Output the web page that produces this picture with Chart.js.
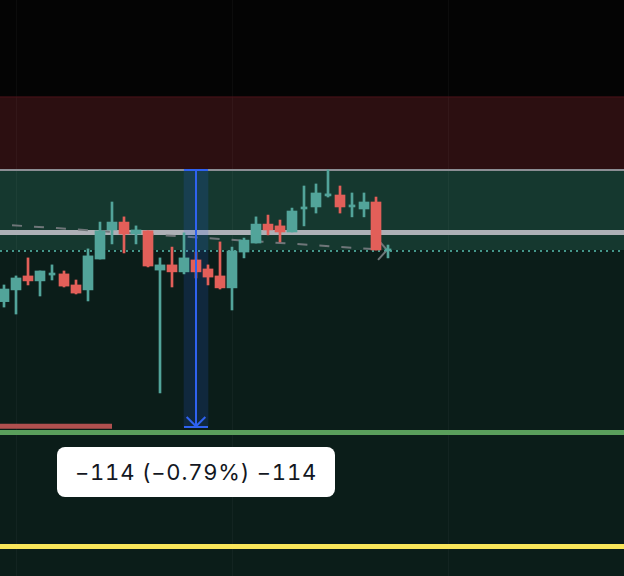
<!DOCTYPE html>
<html>
<head>
<meta charset="utf-8">
<script src="https://cdn.jsdelivr.net/npm/chart.js@4.4.1/dist/chart.umd.min.js"></script>
<style>
  html, body { margin: 0; padding: 0; background: #0b1d19; overflow: hidden; }
  #wrap { position: relative; width: 624px; height: 576px; }
  canvas { display: block; }
  #measure {
    position: absolute; box-sizing: border-box; width: 278px; height: 50px;
    background: #ffffff; border-radius: 8px; color: #131722;
    font: 22px Inter, "Noto Sans", sans-serif; font-feature-settings: "tnum";
    letter-spacing: 0.8px; display: flex; align-items: center; justify-content: center;
    padding-top: 1px; white-space: nowrap;
  }
</style>
</head>
<body>
<div id="wrap">
  <canvas id="chart" width="624" height="576"></canvas>
  <div id="measure"></div>
</div>
<script>
// candles, one per slot, oldest first
const opens  = [14371.6, 14376.8, 14383.0, 14380.8, 14383.4, 14383.9, 14379.0, 14376.8, 14390.5, 14403.4,
                14406.9, 14401.6, 14403.0, 14385.6, 14387.9, 14384.8, 14390.1, 14386.1, 14383.0, 14377.7,
                14393.6, 14397.6, 14406.0, 14405.2, 14402.5, 14412.7, 14413.6, 14418.5, 14418.9, 14413.6,
                14412.7, 14415.8, 14394.1];
const highs  = [14379.0, 14383.0, 14391.0, 14385.2, 14387.9, 14385.2, 14381.2, 14395.0, 14406.9, 14415.8,
                14409.2, 14405.2, 14403.0, 14391.0, 14395.8, 14402.1, 14393.6, 14387.9, 14398.1, 14395.8,
                14399.8, 14409.2, 14410.0, 14407.8, 14413.1, 14422.9, 14423.8, 14430.0, 14422.9, 14419.8,
                14419.8, 14418.0, 14396.7];
const lows   = [14369.2, 14366.1, 14379.0, 14374.1, 14381.2, 14378.1, 14375.0, 14371.9, 14390.5, 14397.2,
                14393.2, 14397.2, 14387.0, 14331.1, 14378.1, 14383.9, 14382.1, 14379.0, 14377.2, 14367.9,
                14391.0, 14397.6, 14401.2, 14398.1, 14402.5, 14405.2, 14410.9, 14418.0, 14410.9, 14409.2,
                14409.2, 14394.5, 14391.0];
const closes = [14377.2, 14382.1, 14380.8, 14385.2, 14384.3, 14378.5, 14375.4, 14391.9, 14403.0, 14406.9,
                14401.6, 14403.4, 14387.4, 14387.9, 14384.8, 14391.0, 14384.8, 14382.5, 14377.7, 14394.1,
                14398.9, 14406.0, 14403.4, 14402.5, 14411.8, 14413.6, 14419.8, 14419.4, 14413.6, 14414.5,
                14415.8, 14394.5, 14394.5];

// price zones and levels
const redZone = [14430, 14462.4];
const tealZone = [14394.5, 14430];
const grayLevel = 14402.3;
const dottedLevel = 14394.1;
const greenLevel = 14313.6;
const yellowLevel = 14263.0;
const redLevel = 14316.3;
const redLevelEnd = 9;

// dashed projection and its arrow head
const trendX = [0.67, 30.75];
const trendY = [14405.5, 14394.9];
const trendHeadX = [31.29, 31.92, 31.17];
const trendHeadY = [14398.3, 14394.5, 14390.1];

// measure tool
const measureSlot = 16;
const measureTop = 14430;
const measureBottom = 14316;

const gridSlots = [1, 19, 37];

const xMin = -1 / 3, xMax = 51 + 2 / 3;
const yMin = 14249.9, yMax = 14505.4;

const up = '#52a49a', down = '#e25f59';
const candleColor = ctx => {
  const i = ctx.raw ? ctx.raw.x : ctx.dataIndex;
  return closes[i] >= opens[i] ? up : down;
};

const wickData = opens.map((o, i) => ({ x: i, y: [lows[i], highs[i]] }));
const bodyData = [], thinBodyData = [];
opens.forEach((o, i) => {
  const pt = { x: i, y: [Math.min(o, closes[i]), Math.max(o, closes[i])] };
  if (Math.abs(closes[i] - o) < 1.2) thinBodyData.push(pt); else bodyData.push(pt);
});

const hline = (y, x0, x1) => [{ x: x0, y }, { x: x1, y }];
const pts = (xs, ys) => xs.map((x, i) => ({ x, y: ys[i] }));

function lineSet(data, color, width, order, dash) {
  return {
    type: 'line', data, borderColor: color, borderWidth: width, borderDash: dash || [],
    pointRadius: 0, fill: false, tension: 0, order
  };
}

const backdrop = {
  id: 'backdrop',
  beforeDatasetsDraw(chart) {
    const { ctx, chartArea: a, scales: { x, y } } = chart;
    const band = (hi, lo, color) => {
      const t = y.getPixelForValue(hi), b = y.getPixelForValue(lo);
      ctx.fillStyle = color;
      ctx.fillRect(a.left, t, a.right - a.left, b - t);
    };
    ctx.save();
    band(yMax, redZone[1], '#040404');
    band(redZone[1], redZone[0], '#2c0f11');
    band(tealZone[1], tealZone[0], '#15382f');
    ctx.strokeStyle = 'rgba(255,255,255,0.035)';
    ctx.lineWidth = 1;
    gridSlots.forEach(s => {
      const px = Math.round(x.getPixelForValue(s)) + 0.5;
      ctx.beginPath(); ctx.moveTo(px, a.top); ctx.lineTo(px, a.bottom); ctx.stroke();
    });
    ctx.restore();
  }
};

// the measure read-out sits under the tool, centred on its line
const measureLabel = {
  id: 'measureLabel',
  afterDraw(chart) {
    const { x, y } = chart.scales;
    const diff = measureBottom - measureTop;
    const pct = diff / measureTop * 100;
    const fmt = (v, d) => (v < 0 ? '\u2212' : '') + Math.abs(v).toFixed(d);
    const box = document.getElementById('measure');
    box.textContent = `${fmt(diff, 0)} (${fmt(pct, 2)}%) ${fmt(diff, 0)}`;
    box.style.left = (x.getPixelForValue(measureSlot) - 139) + 'px';
    box.style.top = (y.getPixelForValue(measureBottom) + 20) + 'px';
  }
};

new Chart(document.getElementById('chart').getContext('2d'), {
  type: 'bar',
  data: {
    datasets: [
      lineSet(hline(redZone[1], xMin, xMax), '#4d1419', 1, 40),
      lineSet(hline(redZone[0], xMin, xMax), '#8b8e94', 2, 40),
      lineSet(hline(grayLevel, xMin, xMax), '#adb0b6', 5, 40),
      lineSet(hline(dottedLevel, xMin, xMax), '#44978b', 2, 40, [2, 4]),
      lineSet(pts(trendX, trendY), '#6f7679', 2, 35, [10, 12]),
      lineSet(pts(trendHeadX, trendHeadY), '#6f7679', 2, 35),
      {
        data: [{ x: measureSlot, y: [measureBottom, measureTop] }],
        backgroundColor: 'rgba(41,98,255,0.16)', barThickness: 24, grouped: false, order: 30
      },
      { data: wickData, backgroundColor: candleColor, barThickness: 2, grouped: false, order: 20 },
      { data: bodyData, backgroundColor: candleColor, barThickness: 10, grouped: false, minBarLength: 2, order: 19 },
      { data: thinBodyData, backgroundColor: candleColor, barThickness: 6, grouped: false, minBarLength: 2, order: 19 },
      lineSet(hline(measureTop, measureSlot - 1, measureSlot + 1), '#2f62f0', 2, 5),
      lineSet(hline(measureBottom, measureSlot - 1, measureSlot + 1), '#2f62f0', 2, 5),
      lineSet([{ x: measureSlot, y: measureTop }, { x: measureSlot, y: measureBottom }], '#2f62f0', 2, 5),
      lineSet(pts([measureSlot - 0.78, measureSlot, measureSlot + 0.78], [14320.4, measureBottom + 0.3, 14320.4]), '#2f62f0', 2, 5),
      lineSet(hline(redLevel, xMin, redLevelEnd), '#b0504f', 5, 3),
      lineSet(hline(greenLevel, xMin, xMax), '#5a9f5c', 5, 2),
      lineSet(hline(yellowLevel, xMin, xMax), '#f9e65a', 5, 2)
    ]
  },
  options: {
    responsive: false,
    animation: false,
    layout: { padding: 0 },
    plugins: { legend: { display: false }, tooltip: { enabled: false } },
    scales: {
      x: { type: 'linear', display: false, min: xMin, max: xMax, offset: false },
      y: { type: 'linear', display: false, min: yMin, max: yMax }
    }
  },
  plugins: [backdrop, measureLabel]
});
</script>
</body>
</html>
